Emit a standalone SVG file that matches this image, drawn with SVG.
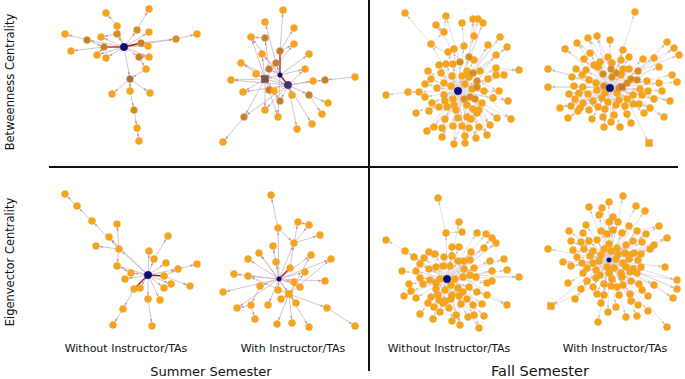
<svg xmlns="http://www.w3.org/2000/svg" width="685" height="379" viewBox="0 0 685 379">
<defs>
<marker id="ms" viewBox="-4 -2 8 4" refX="3.8" refY="0" markerWidth="8" markerHeight="4" markerUnits="userSpaceOnUse" orient="auto"><path d="M-3,-1.2L0,0L-3,1.2z" fill="#b8949f"/></marker>
<marker id="mf" viewBox="-4 -2 8 4" refX="3.8" refY="0" markerWidth="8" markerHeight="4" markerUnits="userSpaceOnUse" orient="auto"><path d="M-3,-1.2L0,0L-3,1.2z" fill="#c4bcc2"/></marker>
</defs>
<style>
.es path{stroke:#cdb3bb;stroke-width:0.8;fill:none;marker-end:url(#ms)}
.ef path{stroke:#d9d1d6;stroke-width:0.7;fill:none;marker-end:url(#mf)}
.es path.r,.ef path.r{stroke:#9b1c1c;stroke-width:1.3;marker-end:none}
.n circle,.n rect{fill:#f7a41a;stroke:#e9a43c;stroke-width:0.5}
.n circle{r:3.5px}
.n .b{fill:#d48c26}
.n .c{fill:#c08032}
.n .d{fill:#a57040}
.n .p{fill:#4a2e78;stroke:#3a2660}
.n .h{fill:#0b0b80;stroke:#000060}
.n .s{fill:#7d5545;stroke:#6a4a3c}
.n .t{fill:#c07a35}
.n circle.h,.n circle.p{r:3.7px}
.n circle.sm{r:2.3px}
text{font-family:"DejaVu Sans","Liberation Sans",sans-serif;fill:#111}
.lab{font-size:11px;text-anchor:middle}
.ax{font-size:11.5px;text-anchor:middle}
</style>
<rect width="685" height="379" fill="#fff"/>

<g id="connectors">
<!-- panel 1 -->
<g class="es">
<path d="M124 47L117 26"/><path d="M117 26L106 13"/><path d="M124 47L117 34"/><path d="M124 47L137 30"/><path d="M137 30L149 9"/><path d="M124 47L149 32"/><path d="M124 47L101 37"/><path d="M124 47L87 40"/><path d="M87 40L65 34"/><path d="M104 47L71 51"/><path d="M104 47L97 55"/><path d="M124 47L106 58"/><path d="M124 47L97 55"/><path d="M124 47L148 46"/><path d="M176 39L197 34"/><path d="M124 47L139 57"/><path d="M139 57L149 57"/><path d="M139 57L146 69"/><path d="M146 69L130 79"/><path d="M124 47L130 79"/><path d="M130 79L112 94"/><path d="M130 79L130 91"/><path d="M130 79L150 93"/><path d="M130 91L134 110"/><path d="M134 110L137 128"/><path d="M137 128L139 141"/><path d="M124 47L149 57"/><path d="M117 34L101 37"/><path d="M87 40L104 47"/><path d="M141 43L176 39"/><path d="M124 47L176 39"/>
<path class="r" d="M124 47L104 47"/><path class="r" d="M124 47L141 43"/>
</g>
<!-- panel 2 -->
<g class="es">
<path d="M280 51L283 10"/><path d="M276 63L265 22"/><path d="M265 38L251 37"/><path d="M269 69L265 38"/><path d="M280 51L294 28"/><path d="M280 51L294 44"/><path d="M265 79L262 54"/><path d="M280 75L309 54"/><path d="M265 79L241 63"/><path d="M280 75L276 63"/><path d="M280 75L269 69"/><path d="M288 85L305 69"/><path d="M265 79L256 74"/><path d="M265 79L231 80"/><path d="M288 85L313 81"/><path d="M288 85L325 80"/><path d="M355 77L325 80"/><path d="M265 79L243 92"/><path d="M288 85L269 90"/><path d="M265 79L274 91"/><path d="M288 85L292 95"/><path d="M288 85L309 95"/><path d="M309 95L328 103"/><path d="M309 95L322 114"/><path d="M288 85L280 101"/><path d="M265 79L265 110"/><path d="M265 79L244 117"/><path d="M244 117L223 142"/><path d="M280 75L278 117"/><path d="M288 85L312 124"/><path d="M288 85L297 129"/><path d="M280 75L265 79"/><path d="M265 79L288 85"/><path d="M288 85L265 110"/><path d="M265 79L251 37"/><path d="M288 85L262 54"/><path d="M288 85L231 80"/><path d="M288 85L241 63"/><path d="M265 79L294 44"/><path d="M280 75L251 37"/><path d="M288 85L243 92"/><path d="M265 79L280 101"/><path d="M288 85L244 117"/><path d="M280 75L305 69"/><path d="M265 79L278 117"/>
<path class="r" d="M280 75L288 85"/><path class="r" d="M280 75L280 51"/>
</g>
<!-- panel 3 -->
<g class="ef">
<path d="M431 44L405 13"/><path d="M444 32L446 16"/><path d="M474 36L473 19"/><path d="M474 36L478 19"/><path d="M458 91L483 23"/><path d="M464 46L462 23"/><path d="M444 32L436 25"/><path d="M431 44L444 32"/><path d="M458 91L474 36"/><path d="M458 91L500 37"/><path d="M458 91L431 44"/><path d="M458 91L464 46"/><path d="M458 91L488 45"/><path d="M458 91L507 47"/><path d="M458 91L454 49"/><path d="M458 91L448 52"/><path d="M458 91L469 57"/><path d="M458 91L496 55"/><path d="M458 91L460 62"/><path d="M458 91L474 60"/><path d="M458 91L446 64"/><path d="M458 91L453 64"/><path d="M458 91L439 65"/><path d="M458 91L428 71"/><path d="M458 91L441 73"/><path d="M458 91L467 71"/><path d="M458 91L473 73"/><path d="M458 91L480 71"/><path d="M458 91L496 68"/><path d="M496 68L519 70"/><path d="M458 91L431 79"/><path d="M458 91L425 84"/><path d="M458 91L452 76"/><path d="M458 91L462 76"/><path d="M458 91L469 77"/><path d="M458 91L477 81"/><path d="M458 91L488 79"/><path d="M458 91L496 75"/><path d="M458 91L504 75"/><path d="M458 91L444 83"/><path d="M458 91L451 86"/><path d="M458 91L465 84"/><path d="M458 91L477 87"/><path d="M458 91L484 91"/><path d="M458 91L499 91"/><path d="M458 91L437 88"/><path d="M458 91L419 92"/><path d="M419 92L408 92"/><path d="M408 92L386 95"/><path d="M458 91L425 97"/><path d="M458 91L444 95"/><path d="M458 91L464 99"/><path d="M458 91L470 97"/><path d="M458 91L493 98"/><path d="M458 91L508 101"/><path d="M458 91L432 103"/><path d="M458 91L445 101"/><path d="M458 91L482 103"/><path d="M458 91L439 107"/><path d="M458 91L473 109"/><path d="M458 91L416 113"/><path d="M458 91L429 111"/><path d="M458 91L458 118"/><path d="M458 91L477 113"/><path d="M458 91L497 118"/><path d="M458 91L511 119"/><path d="M458 91L445 119"/><path d="M458 91L471 119"/><path d="M458 91L434 127"/><path d="M458 91L442 128"/><path d="M458 91L453 126"/><path d="M458 91L462 126"/><path d="M458 91L469 128"/><path d="M458 91L479 127"/><path d="M458 91L490 125"/><path d="M458 91L427 131"/><path d="M458 91L442 137"/><path d="M458 91L465 136"/><path d="M458 91L476 138"/><path d="M458 91L487 135"/><path d="M458 91L454 144"/><path d="M458 91L465 143"/>
<path d="M473 73L500 37"/><path d="M473 73L507 47"/><path d="M473 73L519 70"/><path d="M477 87L508 101"/><path d="M477 87L511 119"/><path d="M475 99L487 135"/><path d="M475 99L476 138"/><path d="M469 57L483 23"/><path d="M460 62L436 25"/><path d="M477 81L496 55"/><path d="M464 99L465 143"/><path d="M470 97L497 118"/><path d="M460 62L431 44"/><path d="M475 99L490 125"/><path d="M464 99L442 137"/><path d="M477 87L504 75"/><path d="M469 57L473 19"/><path d="M460 62L446 16"/><path d="M473 73L488 45"/><path d="M477 81L499 91"/><path d="M470 97L454 144"/><path d="M464 99L427 131"/>
</g>
<!-- panel 4 -->
<g class="ef">
<path d="M610 88L635 12"/><path d="M610 88L588 38"/><path d="M610 88L597 36"/><path d="M610 88L610 40"/><path d="M610 88L577 43"/><path d="M638 71L667 42"/><path d="M638 71L674 48"/><path d="M610 88L565 49"/><path d="M610 88L590 53"/><path d="M610 88L623 50"/><path d="M638 71L679 55"/><path d="M610 88L608 57"/><path d="M610 88L629 57"/><path d="M610 88L584 59"/><path d="M610 88L600 62"/><path d="M610 88L612 63"/><path d="M610 88L621 60"/><path d="M610 88L643 59"/><path d="M610 88L654 58"/><path d="M610 88L548 69"/><path d="M610 88L576 69"/><path d="M610 88L594 65"/><path d="M610 88L598 67"/><path d="M610 88L586 70"/><path d="M610 88L623 69"/><path d="M610 88L629 69"/><path d="M610 88L638 71"/><path d="M610 88L659 67"/><path d="M610 88L572 77"/><path d="M610 88L582 75"/><path d="M610 88L589 80"/><path d="M610 88L621 75"/><path d="M610 88L647 81"/><path d="M610 88L659 83"/><path d="M610 88L672 75"/><path d="M610 88L677 82"/><path d="M610 88L548 87"/><path d="M610 88L574 86"/><path d="M610 88L583 87"/><path d="M610 88L596 83"/><path d="M610 88L640 89"/><path d="M610 88L648 91"/><path d="M610 88L662 91"/><path d="M610 88L569 94"/><path d="M610 88L579 93"/><path d="M610 88L588 94"/><path d="M610 88L597 90"/><path d="M610 88L605 93"/><path d="M610 88L617 93"/><path d="M610 88L633 95"/><path d="M610 88L642 95"/><path d="M610 88L654 99"/><path d="M610 88L670 101"/><path d="M610 88L575 99"/><path d="M610 88L583 103"/><path d="M610 88L593 101"/><path d="M610 88L602 98"/><path d="M610 88L608 102"/><path d="M610 88L619 100"/><path d="M610 88L627 99"/><path d="M610 88L639 104"/><path d="M610 88L650 108"/><path d="M610 88L560 108"/><path d="M610 88L571 106"/><path d="M610 88L580 108"/><path d="M610 88L589 110"/><path d="M610 88L598 107"/><path d="M610 88L605 109"/><path d="M610 88L616 105"/><path d="M610 88L625 106"/><path d="M610 88L633 104"/><path d="M610 88L644 113"/><path d="M610 88L664 117"/><path d="M610 88L568 118"/><path d="M610 88L578 111"/><path d="M610 88L592 119"/><path d="M610 88L603 117"/><path d="M610 88L614 115"/><path d="M610 88L627 114"/><path d="M610 88L611 122"/><path d="M610 88L620 127"/><path d="M610 88L631 123"/><path d="M610 88L604 127"/><path d="M627 99L649 143"/>
<path d="M622 87L565 49"/><path d="M622 87L548 69"/><path d="M622 87L548 87"/><path d="M631 79L577 43"/><path d="M622 87L560 108"/><path d="M631 79L667 42"/><path d="M622 87L568 118"/><path d="M637 80L674 48"/><path d="M622 87L664 117"/><path d="M616 73L588 38"/><path d="M611 69L597 36"/><path d="M622 87L670 101"/>
</g>
<!-- panel 5 -->
<g class="es">
<path d="M77 206L65 194"/><path d="M92 221L77 206"/><path d="M119 249L92 221"/><path d="M148 275L119 249"/><path d="M119 249L117 224"/><path d="M119 249L96 246"/><path d="M119 249L109 237"/><path d="M154 259L168 236"/><path d="M148 275L154 259"/><path d="M148 275L149 251"/><path d="M148 275L166 263"/><path d="M178 269L197 264"/><path d="M148 275L178 269"/><path d="M148 275L117 266"/><path d="M148 275L131 273"/><path d="M148 275L125 279"/><path d="M148 275L171 284"/><path d="M148 275L140 288"/><path d="M148 275L164 288"/><path d="M164 276L190 286"/><path d="M148 275L148 299"/><path d="M148 275L160 300"/><path d="M134 289L123 309"/><path d="M123 309L113 325"/><path d="M148 299L152 326"/><path d="M119 249L117 266"/><path d="M117 266L131 273"/><path d="M148 275L109 237"/><path d="M164 276L178 269"/>
<path class="r" d="M148 275L164 276"/><path class="r" d="M148 275L134 289"/>
</g>
<!-- panel 6 -->
<g class="es">
<path d="M278 228L271 195"/><path d="M279 279L278 228"/><path d="M294 243L298 222"/><path d="M294 243L309 225"/><path d="M298 222L309 225"/><path d="M279 279L294 243"/><path d="M294 243L320 235"/><path d="M279 279L273 246"/><path d="M279 279L311 255"/><path d="M279 279L259 253"/><path d="M279 279L248 259"/><path d="M279 279L276 262"/><path d="M279 279L331 259"/><path d="M279 279L234 274"/><path d="M279 279L248 276"/><path d="M279 279L305 272"/><path d="M279 279L325 281"/><path d="M279 279L260 286"/><path d="M279 279L294 282"/><path d="M279 279L300 287"/><path d="M279 279L223 292"/><path d="M279 279L278 290"/><path d="M279 279L289 294"/><path d="M289 294L281 299"/><path d="M289 294L296 303"/><path d="M279 279L268 305"/><path d="M260 286L251 305"/><path d="M251 305L237 308"/><path d="M289 294L327 308"/><path d="M327 308L355 326"/><path d="M251 305L255 319"/><path d="M289 294L277 324"/><path d="M289 294L292 323"/><path d="M289 294L309 327"/><path d="M290 268L294 243"/><path d="M289 294L311 255"/><path d="M289 294L331 259"/><path d="M289 294L259 253"/><path d="M278 228L294 243"/><path d="M289 294L248 276"/><path d="M279 279L237 308"/><path d="M289 294L305 272"/>
<path class="r" d="M279 279L290 268"/>
</g>
<!-- panel 7 -->
<g class="ef">
<path d="M446 233L438 198"/><path d="M447 279L459 222"/><path d="M447 279L446 233"/><path d="M446 233L462 232"/><path d="M447 279L477 233"/><path d="M447 279L486 234"/><path d="M447 279L492 238"/><path d="M447 279L496 243"/><path d="M405 251L386 240"/><path d="M447 279L405 251"/><path d="M447 279L452 247"/><path d="M447 279L459 247"/><path d="M447 279L484 248"/><path d="M447 279L429 252"/><path d="M447 279L435 254"/><path d="M447 279L471 252"/><path d="M447 279L414 257"/><path d="M447 279L424 258"/><path d="M447 279L444 257"/><path d="M447 279L452 256"/><path d="M447 279L458 261"/><path d="M447 279L464 261"/><path d="M447 279L470 260"/><path d="M447 279L504 259"/><path d="M447 279L490 261"/><path d="M447 279L420 264"/><path d="M447 279L429 269"/><path d="M447 279L436 267"/><path d="M447 279L464 269"/><path d="M447 279L474 268"/><path d="M447 279L492 271"/><path d="M447 279L507 270"/><path d="M447 279L402 271"/><path d="M447 279L416 271"/><path d="M447 279L470 275"/><path d="M447 279L476 277"/><path d="M447 279L519 277"/><path d="M447 279L420 278"/><path d="M447 279L430 280"/><path d="M447 279L455 279"/><path d="M447 279L409 284"/><path d="M447 279L423 284"/><path d="M447 279L451 285"/><path d="M447 279L458 288"/><path d="M447 279L469 287"/><path d="M447 279L487 283"/><path d="M447 279L492 281"/><path d="M447 279L436 289"/><path d="M447 279L463 292"/><path d="M447 279L477 292"/><path d="M447 279L411 291"/><path d="M447 279L404 296"/><path d="M447 279L416 298"/><path d="M447 279L431 297"/><path d="M447 279L452 295"/><path d="M447 279L459 296"/><path d="M447 279L487 295"/><path d="M447 279L439 300"/><path d="M447 279L467 299"/><path d="M447 279L428 303"/><path d="M447 279L443 303"/><path d="M447 279L461 304"/><path d="M447 279L473 305"/><path d="M447 279L482 304"/><path d="M447 279L507 305"/><path d="M447 279L434 307"/><path d="M447 279L449 308"/><path d="M447 279L420 314"/><path d="M447 279L440 312"/><path d="M447 279L456 315"/><path d="M447 279L468 317"/><path d="M447 279L474 315"/><path d="M447 279L484 316"/><path d="M447 279L433 319"/><path d="M447 279L452 321"/><path d="M447 279L460 325"/><path d="M447 279L479 328"/>
<path d="M464 269L496 243"/><path d="M470 275L519 277"/><path d="M463 277L507 305"/><path d="M469 287L479 328"/><path d="M458 288L460 325"/><path d="M470 260L492 238"/>
</g>
<!-- panel 8 -->
<g class="ef">
<path d="M609 260L623 196"/><path d="M609 260L589 207"/><path d="M609 260L602 208"/><path d="M609 260L609 202"/><path d="M609 260L636 206"/><path d="M609 260L645 211"/><path d="M609 260L599 215"/><path d="M609 260L613 217"/><path d="M609 260L586 225"/><path d="M609 260L609 222"/><path d="M609 260L618 222"/><path d="M609 260L629 226"/><path d="M609 260L659 226"/><path d="M609 260L569 231"/><path d="M609 260L583 233"/><path d="M609 260L601 231"/><path d="M609 260L613 230"/><path d="M609 260L622 233"/><path d="M609 260L637 231"/><path d="M609 260L646 234"/><path d="M609 260L667 238"/><path d="M609 260L571 241"/><path d="M609 260L581 242"/><path d="M609 260L589 241"/><path d="M609 260L597 240"/><path d="M609 260L626 245"/><path d="M609 260L633 241"/><path d="M609 260L642 242"/><path d="M609 260L654 245"/><path d="M609 260L548 249"/><path d="M609 260L573 250"/><path d="M609 260L584 249"/><path d="M609 260L593 251"/><path d="M609 260L604 249"/><path d="M609 260L617 248"/><path d="M609 260L625 253"/><path d="M609 260L634 253"/><path d="M609 260L641 254"/><path d="M609 260L650 249"/><path d="M609 260L577 257"/><path d="M609 260L590 256"/><path d="M609 260L630 255"/><path d="M609 260L563 262"/><path d="M609 260L571 266"/><path d="M609 260L582 263"/><path d="M609 260L593 263"/><path d="M609 260L623 263"/><path d="M609 260L638 260"/><path d="M609 260L587 268"/><path d="M609 260L596 270"/><path d="M609 260L626 267"/><path d="M609 260L633 269"/><path d="M609 260L641 267"/><path d="M609 260L665 267"/><path d="M609 260L583 273"/><path d="M609 260L600 275"/><path d="M609 260L621 273"/><path d="M609 260L630 272"/><path d="M609 260L637 273"/><path d="M609 260L596 278"/><path d="M609 260L587 281"/><path d="M609 260L612 279"/><path d="M609 260L622 277"/><path d="M609 260L631 281"/><path d="M609 260L677 280"/><path d="M609 260L568 283"/><path d="M609 260L593 287"/><path d="M609 260L604 284"/><path d="M609 260L617 287"/><path d="M609 260L623 285"/><path d="M609 260L639 284"/><path d="M609 260L654 285"/><path d="M609 260L677 289"/><path d="M609 260L581 289"/><path d="M609 260L597 294"/><path d="M609 260L604 295"/><path d="M609 260L619 295"/><path d="M609 260L630 294"/><path d="M609 260L642 290"/><path d="M609 260L648 296"/><path d="M609 260L673 298"/><path d="M609 260L575 299"/><path d="M609 260L601 303"/><path d="M609 260L616 307"/><path d="M609 260L631 301"/><path d="M609 260L638 305"/><path d="M609 260L551 306"/><path d="M609 260L608 312"/><path d="M609 260L626 317"/><path d="M609 260L637 316"/><path d="M609 260L648 311"/><path d="M609 260L598 322"/><path d="M609 260L667 327"/>
<path d="M630 272L677 280"/><path d="M626 267L677 289"/><path d="M633 269L673 298"/><path d="M593 287L551 306"/><path d="M637 231L659 226"/><path d="M641 254L667 238"/>
</g>
</g>

<!-- panel 1: summer, betweenness, without -->
<g id="summer-betweenness-without" class="n">
<circle cx="149" cy="9" r="3.5"/><circle cx="106" cy="13" r="3.5"/><circle cx="117" cy="26" r="3.5"/><circle cx="137" cy="30" r="3.5" class="b"/><circle cx="149" cy="32" r="3.5"/><circle cx="65" cy="34" r="3.5"/><circle cx="117" cy="34" r="3.5" class="b"/><circle cx="101" cy="37" r="3.5"/><circle cx="197" cy="34" r="3.5"/><circle cx="176" cy="39" r="3.5" class="b"/><circle cx="87" cy="40" r="3.5" class="c"/><circle cx="141" cy="43" r="3.5" class="c"/><circle cx="148" cy="46" r="3.5"/><circle cx="104" cy="47" r="3.5" class="c"/><circle cx="71" cy="51" r="3.5"/><circle cx="97" cy="55" r="3.5"/><circle cx="106" cy="58" r="3.5"/><circle cx="139" cy="57" r="3.5" class="c"/><circle cx="149" cy="57" r="3.5"/><circle cx="146" cy="69" r="3.5"/><circle cx="130" cy="79" r="3.5" class="d"/><circle cx="112" cy="94" r="3.5"/><circle cx="130" cy="91" r="3.5"/><circle cx="150" cy="93" r="3.5"/><circle cx="134" cy="110" r="3.5" class="b"/><circle cx="137" cy="128" r="3.5"/><circle cx="139" cy="141" r="3.5"/>
<circle id="hub-1" cx="124" cy="47" r="3.7" class="h"/>
</g>

<!-- panel 2: summer, betweenness, with -->
<g id="summer-betweenness-with" class="n">
<circle cx="283" cy="10" r="3.5"/><circle cx="265" cy="22" r="3.5"/><circle cx="294" cy="28" r="3.5"/><circle cx="251" cy="37" r="3.5"/><circle cx="265" cy="38" r="3.5" class="c"/><circle cx="294" cy="44" r="3.5"/><circle cx="280" cy="51" r="3.5" class="t"/><circle cx="262" cy="54" r="3.5"/><circle cx="309" cy="54" r="3.5"/><circle cx="241" cy="63" r="3.5"/><circle cx="276" cy="63" r="3.5" class="c"/><circle cx="269" cy="69" r="3.5" class="t"/><circle cx="305" cy="69" r="3.5"/><circle cx="256" cy="74" r="3.5"/><circle cx="231" cy="80" r="3.5"/><circle cx="313" cy="81" r="3.5"/><circle cx="325" cy="80" r="3.5" class="c"/><circle cx="355" cy="77" r="3.5"/><circle cx="243" cy="92" r="3.5"/><circle cx="269" cy="90" r="3.5" class="c"/><circle cx="274" cy="91" r="3.5"/><circle cx="292" cy="95" r="3.5"/><circle cx="309" cy="95" r="3.5" class="c"/><circle cx="280" cy="101" r="3.5" class="c"/><circle cx="328" cy="103" r="3.5"/><circle cx="265" cy="110" r="3.5"/><circle cx="322" cy="114" r="3.5"/><circle cx="244" cy="117" r="3.5" class="c"/><circle cx="278" cy="117" r="3.5"/><circle cx="312" cy="124" r="3.5"/><circle cx="297" cy="129" r="3.5"/><circle cx="223" cy="142" r="3.5"/>
<rect x="261.5" y="75.5" width="7" height="7" class="s"/>
<circle cx="288" cy="85" r="3.7" class="p"/>
<circle id="hub-2" cx="280" cy="75" r="2.3" class="h sm"/>
</g>

<!-- panel 3: fall, betweenness, without -->
<g id="fall-betweenness-without" class="n">
<circle cx="405" cy="13" r="3.5"/><circle cx="446" cy="16" r="3.5"/><circle cx="473" cy="19" r="3.5"/><circle cx="478" cy="19" r="3.5"/><circle cx="483" cy="23" r="3.5"/><circle cx="462" cy="23" r="3.5"/><circle cx="436" cy="25" r="3.5"/><circle cx="444" cy="32" r="3.5"/><circle cx="474" cy="36" r="3.5"/><circle cx="500" cy="37" r="3.5"/><circle cx="431" cy="44" r="3.5"/><circle cx="464" cy="46" r="3.5"/><circle cx="488" cy="45" r="3.5"/><circle cx="507" cy="47" r="3.5"/><circle cx="454" cy="49" r="3.5"/><circle cx="448" cy="52" r="3.5"/><circle cx="496" cy="55" r="3.5"/><circle cx="474" cy="60" r="3.5"/><circle cx="446" cy="64" r="3.5"/><circle cx="453" cy="64" r="3.5"/><circle cx="439" cy="65" r="3.5"/><circle cx="428" cy="71" r="3.5"/><circle cx="441" cy="73" r="3.5"/><circle cx="467" cy="71" r="3.5"/><circle cx="480" cy="71" r="3.5"/><circle cx="496" cy="68" r="3.5"/><circle cx="519" cy="70" r="3.5"/><circle cx="431" cy="79" r="3.5"/><circle cx="425" cy="84" r="3.5"/><circle cx="452" cy="76" r="3.5"/><circle cx="462" cy="76" r="3.5"/><circle cx="469" cy="77" r="3.5"/><circle cx="488" cy="79" r="3.5"/><circle cx="496" cy="75" r="3.5"/><circle cx="504" cy="75" r="3.5"/><circle cx="444" cy="83" r="3.5"/><circle cx="451" cy="86" r="3.5"/><circle cx="465" cy="84" r="3.5"/><circle cx="472" cy="89" r="3.5"/><circle cx="484" cy="91" r="3.5"/><circle cx="499" cy="91" r="3.5"/><circle cx="437" cy="88" r="3.5"/><circle cx="419" cy="92" r="3.5"/><circle cx="408" cy="92" r="3.5"/><circle cx="386" cy="95" r="3.5"/><circle cx="425" cy="97" r="3.5"/><circle cx="444" cy="95" r="3.5"/><circle cx="453" cy="99" r="3.5"/><circle cx="493" cy="98" r="3.5"/><circle cx="508" cy="101" r="3.5"/><circle cx="432" cy="103" r="3.5"/><circle cx="445" cy="101" r="3.5"/><circle cx="454" cy="105" r="3.5"/><circle cx="467" cy="105" r="3.5"/><circle cx="482" cy="103" r="3.5"/><circle cx="439" cy="107" r="3.5"/><circle cx="447" cy="107" r="3.5"/><circle cx="456" cy="110" r="3.5"/><circle cx="473" cy="109" r="3.5"/><circle cx="479" cy="110" r="3.5"/><circle cx="416" cy="113" r="3.5"/><circle cx="429" cy="111" r="3.5"/><circle cx="458" cy="118" r="3.5"/><circle cx="467" cy="117" r="3.5"/><circle cx="477" cy="113" r="3.5"/><circle cx="497" cy="118" r="3.5"/><circle cx="511" cy="119" r="3.5"/><circle cx="445" cy="119" r="3.5"/><circle cx="471" cy="119" r="3.5"/><circle cx="434" cy="127" r="3.5"/><circle cx="442" cy="128" r="3.5"/><circle cx="453" cy="126" r="3.5"/><circle cx="462" cy="126" r="3.5"/><circle cx="469" cy="128" r="3.5"/><circle cx="479" cy="127" r="3.5"/><circle cx="490" cy="125" r="3.5"/><circle cx="427" cy="131" r="3.5"/><circle cx="442" cy="137" r="3.5"/><circle cx="465" cy="136" r="3.5"/><circle cx="476" cy="138" r="3.5"/><circle cx="487" cy="135" r="3.5"/><circle cx="454" cy="144" r="3.5"/><circle cx="465" cy="143" r="3.5"/>
<circle cx="469" cy="57" r="3.5" class="b"/><circle cx="460" cy="62" r="3.5" class="b"/><circle cx="473" cy="73" r="3.5" class="b"/><circle cx="477" cy="81" r="3.5" class="b"/><circle cx="477" cy="87" r="3.5" class="b"/><circle cx="464" cy="99" r="3.5" class="b"/><circle cx="470" cy="97" r="3.5" class="b"/><circle cx="475" cy="99" r="3.5" class="b"/>
<circle id="hub-3" cx="458" cy="91" r="3.7" class="h"/>
</g>

<!-- panel 4: fall, betweenness, with -->
<g id="fall-betweenness-with" class="n">
<circle cx="635" cy="12" r="3.5"/><circle cx="588" cy="38" r="3.5"/><circle cx="597" cy="36" r="3.5"/><circle cx="610" cy="40" r="3.5"/><circle cx="577" cy="43" r="3.5"/><circle cx="667" cy="42" r="3.5"/><circle cx="674" cy="48" r="3.5"/><circle cx="565" cy="49" r="3.5"/><circle cx="590" cy="53" r="3.5"/><circle cx="623" cy="50" r="3.5"/><circle cx="679" cy="55" r="3.5"/><circle cx="608" cy="57" r="3.5"/><circle cx="629" cy="57" r="3.5"/><circle cx="584" cy="59" r="3.5"/><circle cx="600" cy="62" r="3.5"/><circle cx="612" cy="63" r="3.5"/><circle cx="621" cy="60" r="3.5"/><circle cx="643" cy="59" r="3.5"/><circle cx="654" cy="58" r="3.5"/><circle cx="548" cy="69" r="3.5"/><circle cx="576" cy="69" r="3.5"/><circle cx="594" cy="65" r="3.5"/><circle cx="598" cy="67" r="3.5"/><circle cx="586" cy="70" r="3.5"/><circle cx="623" cy="69" r="3.5"/><circle cx="629" cy="69" r="3.5"/><circle cx="659" cy="67" r="3.5"/><circle cx="572" cy="77" r="3.5"/><circle cx="582" cy="75" r="3.5"/><circle cx="589" cy="80" r="3.5"/><circle cx="621" cy="75" r="3.5"/><circle cx="647" cy="81" r="3.5"/><circle cx="659" cy="83" r="3.5"/><circle cx="672" cy="75" r="3.5"/><circle cx="677" cy="82" r="3.5"/><circle cx="548" cy="87" r="3.5"/><circle cx="574" cy="86" r="3.5"/><circle cx="583" cy="87" r="3.5"/><circle cx="596" cy="83" r="3.5"/><circle cx="640" cy="89" r="3.5"/><circle cx="648" cy="91" r="3.5"/><circle cx="662" cy="91" r="3.5"/><circle cx="569" cy="94" r="3.5"/><circle cx="579" cy="93" r="3.5"/><circle cx="588" cy="94" r="3.5"/><circle cx="597" cy="90" r="3.5"/><circle cx="605" cy="93" r="3.5"/><circle cx="617" cy="93" r="3.5"/><circle cx="633" cy="95" r="3.5"/><circle cx="642" cy="95" r="3.5"/><circle cx="654" cy="99" r="3.5"/><circle cx="670" cy="101" r="3.5"/><circle cx="575" cy="99" r="3.5"/><circle cx="583" cy="103" r="3.5"/><circle cx="593" cy="101" r="3.5"/><circle cx="602" cy="98" r="3.5"/><circle cx="608" cy="102" r="3.5"/><circle cx="619" cy="100" r="3.5"/><circle cx="627" cy="99" r="3.5"/><circle cx="639" cy="104" r="3.5"/><circle cx="650" cy="108" r="3.5"/><circle cx="560" cy="108" r="3.5"/><circle cx="571" cy="106" r="3.5"/><circle cx="580" cy="108" r="3.5"/><circle cx="589" cy="110" r="3.5"/><circle cx="598" cy="107" r="3.5"/><circle cx="605" cy="109" r="3.5"/><circle cx="616" cy="105" r="3.5"/><circle cx="625" cy="106" r="3.5"/><circle cx="633" cy="104" r="3.5"/><circle cx="644" cy="113" r="3.5"/><circle cx="664" cy="117" r="3.5"/><circle cx="568" cy="118" r="3.5"/><circle cx="578" cy="111" r="3.5"/><circle cx="592" cy="119" r="3.5"/><circle cx="603" cy="117" r="3.5"/><circle cx="614" cy="115" r="3.5"/><circle cx="627" cy="114" r="3.5"/><circle cx="611" cy="122" r="3.5"/><circle cx="620" cy="127" r="3.5"/><circle cx="631" cy="123" r="3.5"/><circle cx="604" cy="127" r="3.5"/>
<circle cx="611" cy="69" r="3.5" class="b"/><circle cx="616" cy="73" r="3.5" class="b"/><circle cx="638" cy="71" r="3.5" class="b"/><circle cx="603" cy="74" r="3.5" class="b"/><circle cx="612" cy="77" r="3.5" class="b"/><circle cx="631" cy="79" r="3.5" class="b"/><circle cx="637" cy="80" r="3.5" class="b"/><circle cx="604" cy="86" r="3.5" class="b"/><circle cx="619" cy="88" r="3.5" class="b"/><circle cx="627" cy="83" r="3.5" class="b"/>
<rect x="618.5" y="83.5" width="7" height="7" class="t"/>
<rect x="645.5" y="139.5" width="7" height="7"/>
<circle id="hub-4" cx="610" cy="88" r="3.7" class="h"/>
</g>

<!-- panel 5: summer, eigenvector, without -->
<g id="summer-eigenvector-without" class="n">
<circle cx="65" cy="194" r="3.5"/><circle cx="77" cy="206" r="3.5"/><circle cx="92" cy="221" r="3.5"/><circle cx="117" cy="224" r="3.5"/><circle cx="168" cy="236" r="3.5"/><circle cx="96" cy="246" r="3.5"/><circle cx="109" cy="237" r="3.5"/><circle cx="119" cy="249" r="3.5"/><circle cx="149" cy="251" r="3.5"/><circle cx="154" cy="259" r="3.5"/><circle cx="166" cy="263" r="3.5"/><circle cx="197" cy="264" r="3.5"/><circle cx="178" cy="269" r="3.5"/><circle cx="117" cy="266" r="3.5"/><circle cx="131" cy="273" r="3.5"/><circle cx="125" cy="279" r="3.5"/><circle cx="164" cy="276" r="3.5"/><circle cx="171" cy="284" r="3.5"/><circle cx="134" cy="289" r="3.5"/><circle cx="140" cy="288" r="3.5"/><circle cx="164" cy="288" r="3.5"/><circle cx="190" cy="286" r="3.5"/><circle cx="148" cy="299" r="3.5"/><circle cx="160" cy="300" r="3.5"/><circle cx="123" cy="309" r="3.5"/><circle cx="113" cy="325" r="3.5"/><circle cx="152" cy="326" r="3.5"/>
<circle id="hub-5" cx="148" cy="275" r="3.7" class="h"/>
</g>

<!-- panel 6: summer, eigenvector, with -->
<g id="summer-eigenvector-with" class="n">
<circle cx="271" cy="195" r="3.5"/><circle cx="298" cy="222" r="3.5"/><circle cx="309" cy="225" r="3.5"/><circle cx="278" cy="228" r="3.5"/><circle cx="320" cy="235" r="3.5"/><circle cx="294" cy="243" r="3.5"/><circle cx="273" cy="246" r="3.5"/><circle cx="311" cy="255" r="3.5"/><circle cx="259" cy="253" r="3.5"/><circle cx="248" cy="259" r="3.5"/><circle cx="276" cy="262" r="3.5"/><circle cx="331" cy="259" r="3.5"/><circle cx="290" cy="268" r="3.5"/><circle cx="234" cy="274" r="3.5"/><circle cx="248" cy="276" r="3.5"/><circle cx="305" cy="272" r="3.5"/><circle cx="325" cy="281" r="3.5"/><circle cx="260" cy="286" r="3.5"/><circle cx="294" cy="282" r="3.5"/><circle cx="300" cy="287" r="3.5"/><circle cx="223" cy="292" r="3.5"/><circle cx="278" cy="290" r="3.5"/><circle cx="281" cy="299" r="3.5"/><circle cx="296" cy="303" r="3.5"/><circle cx="268" cy="305" r="3.5"/><circle cx="251" cy="305" r="3.5"/><circle cx="237" cy="308" r="3.5"/><circle cx="327" cy="308" r="3.5"/><circle cx="255" cy="319" r="3.5"/><circle cx="277" cy="324" r="3.5"/><circle cx="292" cy="323" r="3.5"/><circle cx="309" cy="327" r="3.5"/><circle cx="355" cy="326" r="3.5"/>
<rect x="285.5" y="290.5" width="7" height="7"/>
<circle id="hub-6" cx="279" cy="279" r="2.3" class="h sm"/>
</g>

<!-- panel 7: fall, eigenvector, without -->
<g id="fall-eigenvector-without" class="n">
<circle cx="438" cy="198" r="3.5"/><circle cx="459" cy="222" r="3.5"/><circle cx="446" cy="233" r="3.5"/><circle cx="462" cy="232" r="3.5"/><circle cx="477" cy="233" r="3.5"/><circle cx="486" cy="234" r="3.5"/><circle cx="492" cy="238" r="3.5"/><circle cx="496" cy="243" r="3.5"/><circle cx="386" cy="240" r="3.5"/><circle cx="405" cy="251" r="3.5"/><circle cx="452" cy="247" r="3.5"/><circle cx="459" cy="247" r="3.5"/><circle cx="484" cy="248" r="3.5"/><circle cx="429" cy="252" r="3.5"/><circle cx="435" cy="254" r="3.5"/><circle cx="471" cy="252" r="3.5"/><circle cx="414" cy="257" r="3.5"/><circle cx="424" cy="258" r="3.5"/><circle cx="444" cy="257" r="3.5"/><circle cx="452" cy="256" r="3.5"/><circle cx="458" cy="261" r="3.5"/><circle cx="464" cy="261" r="3.5"/><circle cx="470" cy="260" r="3.5"/><circle cx="504" cy="259" r="3.5"/><circle cx="490" cy="261" r="3.5"/><circle cx="420" cy="264" r="3.5"/><circle cx="429" cy="269" r="3.5"/><circle cx="436" cy="267" r="3.5"/><circle cx="443" cy="266" r="3.5"/><circle cx="450" cy="266" r="3.5"/><circle cx="464" cy="269" r="3.5"/><circle cx="474" cy="268" r="3.5"/><circle cx="492" cy="271" r="3.5"/><circle cx="507" cy="270" r="3.5"/><circle cx="402" cy="271" r="3.5"/><circle cx="416" cy="271" r="3.5"/><circle cx="470" cy="275" r="3.5"/><circle cx="476" cy="277" r="3.5"/><circle cx="519" cy="277" r="3.5"/><circle cx="420" cy="278" r="3.5"/><circle cx="430" cy="280" r="3.5"/><circle cx="440" cy="279" r="3.5"/><circle cx="455" cy="279" r="3.5"/><circle cx="463" cy="277" r="3.5"/><circle cx="409" cy="284" r="3.5"/><circle cx="423" cy="284" r="3.5"/><circle cx="436" cy="283" r="3.5"/><circle cx="451" cy="285" r="3.5"/><circle cx="458" cy="288" r="3.5"/><circle cx="469" cy="287" r="3.5"/><circle cx="487" cy="283" r="3.5"/><circle cx="492" cy="281" r="3.5"/><circle cx="436" cy="289" r="3.5"/><circle cx="445" cy="290" r="3.5"/><circle cx="463" cy="292" r="3.5"/><circle cx="477" cy="292" r="3.5"/><circle cx="411" cy="291" r="3.5"/><circle cx="404" cy="296" r="3.5"/><circle cx="416" cy="298" r="3.5"/><circle cx="431" cy="297" r="3.5"/><circle cx="438" cy="295" r="3.5"/><circle cx="452" cy="295" r="3.5"/><circle cx="459" cy="296" r="3.5"/><circle cx="487" cy="295" r="3.5"/><circle cx="439" cy="300" r="3.5"/><circle cx="445" cy="301" r="3.5"/><circle cx="451" cy="299" r="3.5"/><circle cx="467" cy="299" r="3.5"/><circle cx="428" cy="303" r="3.5"/><circle cx="443" cy="303" r="3.5"/><circle cx="461" cy="304" r="3.5"/><circle cx="473" cy="305" r="3.5"/><circle cx="482" cy="304" r="3.5"/><circle cx="507" cy="305" r="3.5"/><circle cx="434" cy="307" r="3.5"/><circle cx="449" cy="308" r="3.5"/><circle cx="420" cy="314" r="3.5"/><circle cx="440" cy="312" r="3.5"/><circle cx="456" cy="315" r="3.5"/><circle cx="468" cy="317" r="3.5"/><circle cx="474" cy="315" r="3.5"/><circle cx="484" cy="316" r="3.5"/><circle cx="433" cy="319" r="3.5"/><circle cx="452" cy="321" r="3.5"/><circle cx="460" cy="325" r="3.5"/><circle cx="479" cy="328" r="3.5"/>
<circle id="hub-7" cx="447" cy="279" r="3.7" class="h"/>
</g>

<!-- panel 8: fall, eigenvector, with -->
<g id="fall-eigenvector-with" class="n">
<circle cx="623" cy="196" r="3.5"/><circle cx="589" cy="207" r="3.5"/><circle cx="602" cy="208" r="3.5"/><circle cx="609" cy="202" r="3.5"/><circle cx="636" cy="206" r="3.5"/><circle cx="645" cy="211" r="3.5"/><circle cx="599" cy="215" r="3.5"/><circle cx="613" cy="217" r="3.5"/><circle cx="586" cy="225" r="3.5"/><circle cx="609" cy="222" r="3.5"/><circle cx="618" cy="222" r="3.5"/><circle cx="629" cy="226" r="3.5"/><circle cx="659" cy="226" r="3.5"/><circle cx="569" cy="231" r="3.5"/><circle cx="583" cy="233" r="3.5"/><circle cx="601" cy="231" r="3.5"/><circle cx="607" cy="234" r="3.5"/><circle cx="613" cy="230" r="3.5"/><circle cx="622" cy="233" r="3.5"/><circle cx="637" cy="231" r="3.5"/><circle cx="646" cy="234" r="3.5"/><circle cx="667" cy="238" r="3.5"/><circle cx="571" cy="241" r="3.5"/><circle cx="581" cy="242" r="3.5"/><circle cx="589" cy="241" r="3.5"/><circle cx="597" cy="240" r="3.5"/><circle cx="609" cy="244" r="3.5"/><circle cx="626" cy="245" r="3.5"/><circle cx="633" cy="241" r="3.5"/><circle cx="642" cy="242" r="3.5"/><circle cx="654" cy="245" r="3.5"/><circle cx="548" cy="249" r="3.5"/><circle cx="573" cy="250" r="3.5"/><circle cx="584" cy="249" r="3.5"/><circle cx="593" cy="251" r="3.5"/><circle cx="604" cy="249" r="3.5"/><circle cx="617" cy="248" r="3.5"/><circle cx="625" cy="253" r="3.5"/><circle cx="634" cy="253" r="3.5"/><circle cx="641" cy="254" r="3.5"/><circle cx="650" cy="249" r="3.5"/><circle cx="577" cy="257" r="3.5"/><circle cx="590" cy="256" r="3.5"/><circle cx="601" cy="255" r="3.5"/><circle cx="611" cy="251" r="3.5"/><circle cx="618" cy="254" r="3.5"/><circle cx="630" cy="255" r="3.5"/><circle cx="563" cy="262" r="3.5"/><circle cx="571" cy="266" r="3.5"/><circle cx="582" cy="263" r="3.5"/><circle cx="593" cy="263" r="3.5"/><circle cx="599" cy="261" r="3.5"/><circle cx="616" cy="259" r="3.5"/><circle cx="623" cy="263" r="3.5"/><circle cx="629" cy="259" r="3.5"/><circle cx="638" cy="260" r="3.5"/><circle cx="587" cy="268" r="3.5"/><circle cx="596" cy="270" r="3.5"/><circle cx="607" cy="267" r="3.5"/><circle cx="614" cy="268" r="3.5"/><circle cx="626" cy="267" r="3.5"/><circle cx="633" cy="269" r="3.5"/><circle cx="641" cy="267" r="3.5"/><circle cx="665" cy="267" r="3.5"/><circle cx="583" cy="273" r="3.5"/><circle cx="600" cy="275" r="3.5"/><circle cx="609" cy="273" r="3.5"/><circle cx="621" cy="273" r="3.5"/><circle cx="630" cy="272" r="3.5"/><circle cx="637" cy="273" r="3.5"/><circle cx="596" cy="278" r="3.5"/><circle cx="587" cy="281" r="3.5"/><circle cx="612" cy="279" r="3.5"/><circle cx="622" cy="277" r="3.5"/><circle cx="631" cy="281" r="3.5"/><circle cx="677" cy="280" r="3.5"/><circle cx="568" cy="283" r="3.5"/><circle cx="593" cy="287" r="3.5"/><circle cx="604" cy="284" r="3.5"/><circle cx="611" cy="286" r="3.5"/><circle cx="617" cy="287" r="3.5"/><circle cx="623" cy="285" r="3.5"/><circle cx="639" cy="284" r="3.5"/><circle cx="654" cy="285" r="3.5"/><circle cx="677" cy="289" r="3.5"/><circle cx="581" cy="289" r="3.5"/><circle cx="597" cy="294" r="3.5"/><circle cx="604" cy="295" r="3.5"/><circle cx="619" cy="295" r="3.5"/><circle cx="630" cy="294" r="3.5"/><circle cx="642" cy="290" r="3.5"/><circle cx="648" cy="296" r="3.5"/><circle cx="673" cy="298" r="3.5"/><circle cx="575" cy="299" r="3.5"/><circle cx="601" cy="303" r="3.5"/><circle cx="616" cy="307" r="3.5"/><circle cx="631" cy="301" r="3.5"/><circle cx="638" cy="305" r="3.5"/><circle cx="608" cy="312" r="3.5"/><circle cx="626" cy="317" r="3.5"/><circle cx="637" cy="316" r="3.5"/><circle cx="648" cy="311" r="3.5"/><circle cx="598" cy="322" r="3.5"/><circle cx="667" cy="327" r="3.5"/>
<rect x="547.5" y="302.5" width="7" height="7"/>
<circle id="hub-8" cx="609" cy="260" r="2.3" class="h sm"/>
</g>

<g id="frame">
<line x1="49" y1="167" x2="678" y2="167" stroke="#111" stroke-width="2"/>
<line x1="369" y1="0" x2="369" y2="371" stroke="#111" stroke-width="2"/>
</g>

<g id="labels">
<text class="ax" x="14" y="82" transform="rotate(-90 14 82)">Betweenness Centrality</text>
<text class="ax" x="14" y="262" transform="rotate(-90 14 262)">Eigenvector Centrality</text>
<text class="lab" x="126" y="352">Without Instructor/TAs</text>
<text class="lab" x="293" y="352">With Instructor/TAs</text>
<text class="lab" x="449" y="352">Without Instructor/TAs</text>
<text class="lab" x="615" y="352">With Instructor/TAs</text>
<text x="211" y="376" style="font-size:13px;text-anchor:middle">Summer Semester</text>
<text x="540" y="376" style="font-size:14.5px;text-anchor:middle">Fall Semester</text>
</g>
</svg>
